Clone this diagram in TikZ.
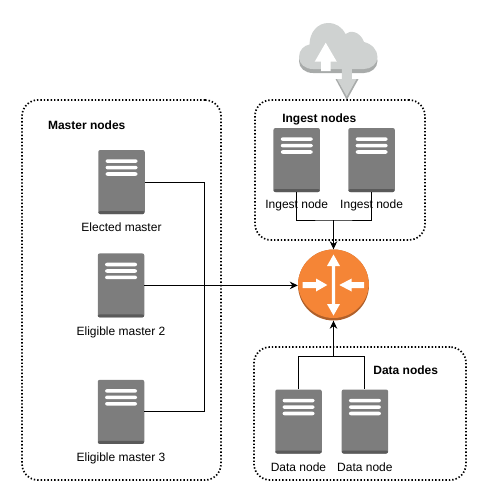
\documentclass[tikz,border=0pt]{standalone}
\usepackage{fontspec}
\setmainfont{Liberation Sans}
\usetikzlibrary{shapes, arrows.meta, positioning, calc}

\definecolor{srvbody}{HTML}{7D7D7D}
\definecolor{srvdark}{HTML}{5A5A5A}
\definecolor{routerbody}{HTML}{F58536}
\definecolor{routerdark}{HTML}{B0602A}
\definecolor{cloudbody}{HTML}{CFD2D1}
\definecolor{clouddark}{HTML}{A8ABAA}

\newcommand{\cloudoutline}{(313,69) .. controls (305,69) and (299,64) .. (299,57) .. controls (299,50) and (304,45.5) .. (309.5,44.5) .. controls (309.5,32) and (318,23) .. (328,23) .. controls (336,23) and (342,27) .. (345.5,34) .. controls (350,30) and (360,31) .. (364,42) .. controls (372,44) and (377.5,50) .. (377.5,57) .. controls (377.5,64) and (371,69) .. (364,69) -- cycle}

\tikzset{
	groupbox/.style={draw, rounded corners=16pt, line width=1.7pt, dash pattern=on 1.4pt off 2pt, inner sep=0pt},
	serverbox/.style={fill=srvbody, rounded corners=2pt, inner sep=0pt, minimum width=46.5pt, minimum height=64pt,
		path picture={
			\fill[srvdark] ([yshift=3pt]path picture bounding box.south west) rectangle (path picture bounding box.south east);
			\foreach \t in {9.3,15.8,22.2}
				\fill[white] ($(path picture bounding box.north west)+(7.3,\t)$) rectangle +(32,3.6);
		}},
	routerbox/.style={circle, fill=routerdark, inner sep=0pt, minimum size=71pt,
		path picture={
			\fill[routerbody] ([yshift=2.5pt]path picture bounding box.center) circle (35.5pt);
			\begin{scope}[shift={(path picture bounding box.center)}]
				\fill[white] (0,-30.5) -- (6.5,-19) -- (1.7,-19) -- (1.7,19) -- (6.5,19) -- (0,30.5) -- (-6.5,19) -- (-1.7,19) -- (-1.7,-19) -- (-6.5,-19) -- cycle;
				\fill[white] (-30.8,-3) -- (-17.5,-3) -- (-17.5,-6.5) -- (-6.2,0) -- (-17.5,6.5) -- (-17.5,3) -- (-30.8,3) -- cycle;
				\fill[white] (30.5,-3) -- (18.2,-3) -- (18.2,-6.5) -- (5.8,0) -- (18.2,6.5) -- (18.2,3) -- (30.5,3) -- cycle;
			\end{scope}
		}},
	nodetext/.style={font=\fontsize{12}{14}\selectfont, inner sep=0pt},
	grouptext/.style={font=\fontsize{12}{14}\selectfont\bfseries, inner sep=0pt},
	link/.style={line width=0.9pt},
	>={Stealth[length=8pt,width=7.5pt]}
}

\begin{document}
\begin{tikzpicture}[x=1pt, y=-1pt, node distance=39pt and 28pt]
	\useasboundingbox (0,0) rectangle (486,501);

	% cloud
	\fill[clouddark, yshift=-4pt] \cloudoutline;
	\fill[cloudbody] \cloudoutline;
	\fill[white] (325.7,42.7) -- (336.8,61.7) -- (330.7,61.7) -- (330.7,71) -- (321,71) -- (321,61.7) -- (314.7,61.7) -- cycle;
	\fill[clouddark] (335.5,79) -- (358.5,79) -- (346.8,100) -- cycle;
	\fill[cloudbody] (341.8,69) -- (351.8,69) -- (351.8,79) -- (356.5,79) -- (346.8,96.5) -- (337,79) -- (341.8,79) -- cycle;

	% groups
	\node[groupbox, minimum width=199pt, minimum height=380pt] (masterbox) at (121.5,290) {};
	\node[groupbox, minimum width=170pt, minimum height=140pt] (ingestbox) at (340,170) {};
	\node[groupbox, minimum width=212pt, minimum height=133pt] (databox) at (360,413.5) {};

	\node[grouptext] (mastertitle) at (86.7,125) {Master nodes};
	\node[grouptext] (ingesttitle) at (319.3,119) {Ingest nodes};
	\node[grouptext] (datatitle) at (405.7,370.7) {Data nodes};

	% servers
	\node[serverbox] (elected) at (121.5,182) {};
	\node[serverbox, below =of elected, xshift=-0.5pt] (eligibleA) {};
	\node[serverbox, below =62pt of eligibleA] (eligibleB) {};
	\node[serverbox] (ingestA) at (296.7,160) {};
	\node[serverbox, right =of ingestA] (ingestB) {};
	\node[serverbox] (dataA) at (298.5,421.5) {};
	\node[serverbox, right =19.5pt of dataA] (dataB) {};

	\node[nodetext, below =8pt of elected] (electedtext) {Elected master};
	\node[nodetext, below =9pt of eligibleA] (eligibleAtext) {Eligible master 2};
	\node[nodetext, below =9pt of eligibleB] (eligibleBtext) {Eligible master 3};
	\node[nodetext, below =7pt of ingestA] (ingestAtext) {Ingest node};
	\node[nodetext, below =7pt of ingestB] (ingestBtext) {Ingest node};
	\node[nodetext, below =9pt of dataA] (dataAtext) {Data node};
	\node[nodetext, below =9pt of dataB] (dataBtext) {Data node};

	\node[routerbox] (router) at (333.5,285) {};

	\coordinate (masterturn) at (204,182);
	\coordinate (ingestjoin) at (333.5,220);
	\coordinate (datajoin) at (333.5,356.5);

	\draw[link] (elected.east) -- (masterturn) |- (eligibleB.east);
	\draw[link,->] (eligibleA.east) -- (eligibleA.east -| router.west);
	\draw[link] (ingestA.south) |- (ingestjoin) -| (ingestB.south);
	\draw[link,->] (ingestjoin) -- (router.north);
	\draw[link] (dataA.north) |- (datajoin) -| (dataB.north);
	\draw[link,->] (datajoin) -- (router.south);

\end{tikzpicture}
\end{document}
